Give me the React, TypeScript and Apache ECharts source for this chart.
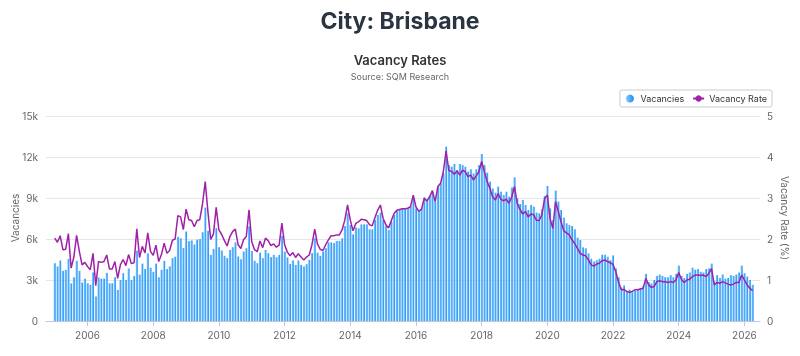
import React, { useEffect, useRef } from "react";
import * as echarts from "echarts";

// Monthly data, Jan 2005 .. Apr 2026 (index 0 = Jan 2005)
const START_YEAR = 2005;

const vacancies: number[] = [
  // 2005
  4230, 3990, 4430, 3670, 3740, 4550, 2750, 3200, 4400, 3670, 2810, 3100,
  // 2006
  2760, 2650, 3550, 1800, 3180, 3100, 3100, 3520, 2760, 2760, 3200, 2270,
  // 2007
  3000, 3500, 3000, 3850, 3000, 3300, 5150, 3400, 4200, 3800, 4950, 3900,
  // 2008
  3600, 4200, 3200, 3750, 4400, 3800, 4000, 4600, 4700, 6150, 6050, 5350,
  // 2009
  6550, 5840, 5900, 5600, 5950, 6000, 6500, 8300, 6600, 4840, 5280, 6800,
  // 2010
  5400, 5160, 4770, 4600, 5200, 5400, 5750, 4720, 4520, 5080, 5330, 6920,
  // 2011
  5130, 4400, 4230, 5000, 4600, 5200, 4960, 4670, 4840, 4670, 4840, 6230,
  // 2012
  5080, 4650, 4180, 4430, 4100, 4430, 4100, 3990, 4160, 4470, 4960, 6060,
  // 2013
  5000, 4770, 5080, 5330, 5750, 5750, 5700, 5850, 5850, 6050, 6950, 7880,
  // 2014
  7020, 6340, 6850, 6780, 7070, 7070, 7070, 6710, 6710, 7390, 7760, 7930,
  // 2015
  7390, 6950, 6660, 7270, 7760, 8050, 8170, 8200, 8200, 8240, 8370, 9100,
  // 2016
  8240, 8050, 8240, 9050, 8850, 9150, 9460, 8730, 9830, 10070, 10800, 12760,
  // 2017
  11410, 11290, 11490, 11050, 11490, 11410, 11290, 10930, 11100, 10800, 11100, 11410,
  // 2018
  12220, 11410, 10850, 10200, 9700, 9390, 9830, 9460, 9220, 9460, 9100, 9760,
  // 2019
  10510, 8980, 8560, 8850, 8490, 8120, 8490, 8370, 7930, 7880, 8200, 9150,
  // 2020
  9880, 8240, 7390, 9540, 8730, 8120, 7560, 7150, 7020, 6950, 6710, 6100,
  // 2021
  5930, 5390, 5320, 4950, 4550, 4350, 4450, 4550, 4850, 4850, 4700, 4450,
  // 2022
  4800, 3850, 3200, 2450, 2600, 2200, 2300, 2100, 2200, 2350, 2400, 2550,
  // 2023
  3450, 2850, 2750, 3000, 3300, 3400, 3300, 3200, 3200, 3350, 3200, 3450,
  // 2024
  4050, 3300, 3150, 3450, 3550, 3900, 3750, 3800, 3600, 3550, 3800, 3850,
  // 2025
  4200, 2900, 3350, 3150, 3400, 3100, 3150, 3350, 3300, 3400, 3550, 4050,
  // 2026
  3500, 3250, 3000, 2650,
];

const vacancyRate: number[] = [
  // 2005
  2.02, 1.92, 2.08, 1.74, 1.75, 2.13, 1.29, 1.56, 2.09, 1.70, 1.37, 1.43,
  // 2006
  1.33, 1.25, 1.65, 0.86, 1.45, 1.43, 1.45, 1.61, 1.27, 1.27, 1.45, 1.04,
  // 2007
  1.37, 1.50, 1.35, 1.62, 1.40, 1.42, 2.25, 1.55, 1.82, 1.66, 2.15, 1.70,
  // 2008
  1.60, 1.85, 1.45, 1.62, 1.90, 1.65, 1.72, 1.97, 2.00, 2.57, 2.54, 2.23,
  // 2009
  2.73, 2.47, 2.45, 2.30, 2.45, 2.47, 2.85, 3.40, 2.65, 1.99, 2.12, 2.77,
  // 2010
  2.22, 2.11, 1.96, 1.83, 2.06, 2.18, 2.24, 1.86, 1.77, 1.98, 2.06, 2.71,
  // 2011
  1.93, 1.74, 1.69, 1.95, 1.79, 2.02, 1.96, 1.84, 1.88, 1.80, 1.85, 2.39,
  // 2012
  1.86, 1.68, 1.59, 1.67, 1.55, 1.64, 1.56, 1.49, 1.56, 1.61, 1.86, 2.24,
  // 2013
  1.88, 1.75, 1.72, 1.86, 1.98, 2.08, 2.08, 2.10, 2.10, 2.22, 2.46, 2.83,
  // 2014
  2.46, 2.20, 2.38, 2.42, 2.48, 2.47, 2.45, 2.35, 2.32, 2.52, 2.70, 2.83,
  // 2015
  2.50, 2.35, 2.27, 2.45, 2.62, 2.70, 2.72, 2.74, 2.74, 2.75, 2.79, 3.07,
  // 2016
  2.78, 2.68, 2.72, 2.99, 2.93, 3.03, 3.18, 2.91, 3.28, 3.36, 3.64, 4.15,
  // 2017
  3.67, 3.65, 3.58, 3.66, 3.56, 3.68, 3.64, 3.52, 3.56, 3.44, 3.54, 3.64,
  // 2018
  3.89, 3.64, 3.40, 3.24, 3.03, 2.95, 3.11, 2.97, 2.93, 2.97, 2.87, 3.03,
  // 2019
  3.28, 2.87, 2.72, 2.61, 2.67, 2.54, 2.61, 2.59, 2.46, 2.45, 2.59, 2.99,
  // 2020
  3.07, 2.49, 2.26, 2.91, 2.67, 2.42, 2.20, 2.15, 2.10, 1.98, 1.89, 1.77,
  // 2021
  1.65, 1.61, 1.59, 1.49, 1.37, 1.34, 1.39, 1.41, 1.47, 1.49, 1.45, 1.42,
  // 2022
  1.38, 1.20, 0.95, 0.76, 0.77, 0.72, 0.70, 0.72, 0.76, 0.76, 0.78, 0.80,
  // 2023
  1.04, 0.88, 0.82, 0.84, 0.96, 0.98, 0.96, 0.96, 0.94, 0.96, 0.94, 1.00,
  // 2024
  1.18, 1.01, 0.94, 1.00, 1.02, 1.08, 1.12, 1.12, 1.11, 1.12, 1.08, 1.16,
  // 2025
  1.28, 0.88, 0.94, 0.92, 0.96, 0.93, 0.90, 0.88, 0.90, 0.94, 0.94, 1.12,
  // 2026
  1.00, 0.88, 0.80, 0.74,
];

const tickYears: number[] = [2006, 2008, 2010, 2012, 2014, 2016, 2018, 2020, 2022, 2024, 2026];
const leftTicks: number[] = [0, 3000, 6000, 9000, 12000, 15000];
const rightTicks: number[] = [0, 1, 2, 3, 4, 5];

const FONT = "Inter, 'Open Sans', sans-serif";

export default function App() {
  const ref = useRef<HTMLDivElement>(null);

  useEffect(() => {
    if (!ref.current) return;
    const chart = echarts.init(ref.current, undefined, { renderer: "svg" });
    const tickIdx = tickYears.map((y) => (y - START_YEAR) * 12);
    const barData = vacancies.map((v, i) => [i, v]);
    const lineData = vacancyRate.map((v, i) => [i, v]);

    chart.setOption({
      animation: false,
      textStyle: { fontFamily: FONT },
      title: [
        {
          text: "City: Brisbane",
          left: "center",
          top: 4,
          textStyle: { fontFamily: FONT, fontSize: 23, fontWeight: 700, color: "#2b3441" },
        },
        {
          text: "Vacancy Rates",
          subtext: "Source: SQM Research",
          left: "center",
          top: 48,
          itemGap: 6,
          textStyle: { fontFamily: FONT, fontSize: 13, fontWeight: 600, color: "#333333" },
          subtextStyle: { fontFamily: FONT, fontSize: 9, color: "#666666" },
        },
      ],
      graphic: [
        {
          type: "text",
          x: 15,
          y: 218,
          rotation: Math.PI / 2,
          style: {
            text: "Vacancies",
            fill: "#666666",
            font: "10px " + FONT,
            textAlign: "center",
            textVerticalAlign: "middle",
          },
        },
        {
          type: "text",
          x: 785,
          y: 218,
          rotation: -Math.PI / 2,
          style: {
            text: "Vacancy Rate (%)",
            fill: "#666666",
            font: "10px " + FONT,
            textAlign: "center",
            textVerticalAlign: "middle",
          },
        },
      ],
      legend: {
        right: 28,
        top: 90,
        borderColor: "#cccccc",
        borderWidth: 1,
        borderRadius: 2,
        padding: [4, 5, 4, 6],
        itemGap: 8,
        itemWidth: 11,
        itemHeight: 8,
        textStyle: { fontFamily: FONT, fontSize: 9, color: "#333333" },
        data: [
          { name: "Vacancies", icon: "circle" },
          { name: "Vacancy Rate" },
        ],
      },
      grid: {
        left: 46,
        right: 40,
        top: 116,
        bottom: 35,
        containLabel: false,
        outerBoundsMode: "none",
      },
      xAxis: {
        type: "value",
        min: -3.18,
        max: 257.7,
        splitLine: { show: false },
        axisLine: { show: true, lineStyle: { color: "#c0c8d8" } },
        axisTick: {
          show: true,
          length: 5,
          customValues: tickIdx,
          lineStyle: { color: "#c0c8d8" },
        },
        axisLabel: {
          customValues: tickIdx,
          formatter: (v: number) => String(START_YEAR + Math.round(v / 12)),
          color: "#666666",
          fontSize: 10,
          margin: 9,
        },
      },
      yAxis: [
        {
          type: "value",
          min: leftTicks[0],
          max: leftTicks[leftTicks.length - 1],
          interval: leftTicks[1] - leftTicks[0],
          axisLine: { show: false },
          axisTick: { show: false },
          axisLabel: {
            color: "#666666",
            fontSize: 10,
            margin: 8,
            formatter: (v: number) => (v === 0 ? "0" : v / 1000 + "k"),
          },
          splitLine: { lineStyle: { color: "#e6e6e6" } },
        },
        {
          type: "value",
          min: rightTicks[0],
          max: rightTicks[rightTicks.length - 1],
          interval: rightTicks[1] - rightTicks[0],
          axisLine: { show: false },
          axisTick: { show: false },
          axisLabel: { color: "#666666", fontSize: 10, margin: 7 },
          splitLine: { show: false },
        },
      ],
      series: [
        {
          name: "Vacancies",
          type: "bar",
          yAxisIndex: 0,
          barWidth: 2,
          data: barData,
          itemStyle: {
            color: new echarts.graphic.LinearGradient(0, 0, 1, 0, [
              { offset: 0, color: "#86cbff" },
              { offset: 1, color: "#1a8cf5" },
            ]),
          },
        },
        {
          name: "Vacancy Rate",
          type: "line",
          yAxisIndex: 1,
          data: lineData,
          symbol: "circle",
          symbolSize: 5,
          showSymbol: false,
          lineStyle: { color: "#a020a8", width: 1.5 },
          itemStyle: { color: "#a020a8" },
        },
      ],
    });
    return () => chart.dispose();
  }, []);

  return (
    <div
      ref={ref}
      style={{ position: "fixed", left: 0, top: 0, width: 800, height: 356 }}
    />
  );
}
